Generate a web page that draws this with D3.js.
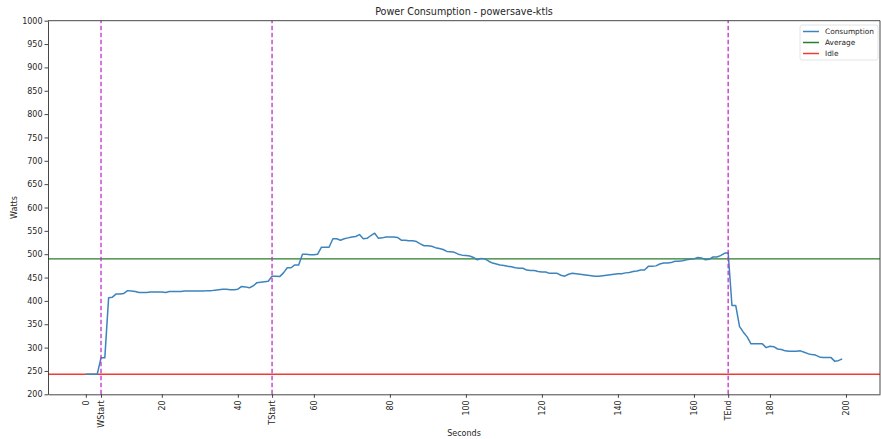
<!DOCTYPE html>
<html>
<head>
<meta charset="utf-8">
<script src="https://cdn.jsdelivr.net/npm/d3@7"></script>
<style>
  body { margin: 0; background: #fff; }
  text { font-family: "DejaVu Sans", sans-serif; fill: #262626; }
</style>
</head>
<body>
<div id="chart"></div>
<script>
// Power readings, one per second starting at 0
const watts = [
    243, 243, 243, 243, 278, 278, 407, 408, 415, 415,
    416, 422, 421, 420, 418, 418, 418, 419, 419, 419,
    419, 418, 420, 420, 420, 420, 421, 421, 421, 421,
    421, 421, 422, 422, 423, 424, 425, 425, 424, 424,
    425, 431, 430, 428, 432, 439, 440, 441, 442, 453,
    453, 452, 460, 471, 471, 477, 477, 500, 500, 499,
    499, 500, 515, 515, 515, 533, 533, 530, 533, 535,
    537, 538, 542, 533, 534, 540, 545, 534, 535, 537,
    537, 537, 536, 530, 530, 529, 529, 527, 522, 518,
    518, 517, 514, 512, 510, 506, 505, 504, 500, 498,
    497, 496, 493, 488, 491, 490, 485, 481, 479, 477,
    476, 474, 473, 471, 470, 470, 466, 465, 465, 463,
    462, 462, 459, 459, 459, 455, 453, 457, 459, 458,
    457, 456, 455, 454, 453, 453, 454, 455, 456, 457,
    458, 458, 460, 461, 463, 464, 466, 466, 474, 474,
    475, 479, 481, 481, 482, 485, 485, 486, 488, 489,
    490, 493, 492, 488, 489, 494, 494, 497, 502, 503,
    390, 390, 345, 333, 323, 308, 308, 308, 308, 300,
    303, 302, 297, 296, 293, 292, 292, 292, 293, 290,
    287, 285, 284, 280, 279, 279, 279, 271, 272, 276
];
const average = 490;
const idle = 243;

// phase markers
const markers = [
    { name: 'WStart', t: 4 },
    { name: 'TStart', t: 49 },
    { name: 'TEnd', t: 169 }
];
const xTicks = [0, 20, 40, 60, 80, 100, 120, 140, 160, 180, 200];
const yTicks = d3.range(200, 1001, 50);

const legendItems = [
    { label: 'Consumption', color: '#3d84bd' },
    { label: 'Average', color: '#2a7d2a' },
    { label: 'Idle', color: '#f03c32' }
];

const width = 881, height = 439;
const margin = { top: 20.7, right: 1, bottom: 44.7, left: 48 };

const svg = d3.select('#chart').append('svg')
    .attr('width', width)
    .attr('height', height);

const x = d3.scaleLinear()
    .domain([-9.95, 208.95])
    .range([margin.left, width - margin.right]);
const y = d3.scaleLinear()
    .domain([200, 1000])
    .range([height - margin.bottom, margin.top]);

const plot = svg.append('g');

// idle and average lines
plot.append('line')
    .attr('x1', x.range()[0]).attr('x2', x.range()[1])
    .attr('y1', y(idle)).attr('y2', y(idle))
    .attr('stroke', '#f03c32').attr('stroke-width', 1.5);
plot.append('line')
    .attr('x1', x.range()[0]).attr('x2', x.range()[1])
    .attr('y1', y(average)).attr('y2', y(average))
    .attr('stroke', '#2a7d2a').attr('stroke-width', 1.3);

// consumption
const line = d3.line()
    .x((d, i) => x(i))
    .y(d => y(d));
plot.append('path')
    .datum(watts)
    .attr('d', line)
    .attr('fill', 'none')
    .attr('stroke', '#3d84bd')
    .attr('stroke-width', 1.5)
    .attr('stroke-linejoin', 'round');

// marker lines
plot.selectAll('.marker')
    .data(markers)
    .enter()
    .append('line')
    .attr('x1', d => x(d.t)).attr('x2', d => x(d.t))
    .attr('y1', y.range()[0]).attr('y2', y.range()[1])
    .attr('stroke', '#c030c8')
    .attr('stroke-width', 1.3)
    .attr('stroke-dasharray', '4.5,2.5');

// axes
const allTicks = xTicks.map(t => ({ t, label: String(t) }))
    .concat(markers.map(m => ({ t: m.t, label: m.name })));

const xAxis = d3.axisBottom(x)
    .tickValues(allTicks.map(d => d.t))
    .tickFormat(v => allTicks.find(d => d.t === v).label)
    .tickSize(3.5)
    .tickSizeOuter(0);
const gx = svg.append('g')
    .attr('transform', `translate(0,${y.range()[0]})`)
    .call(xAxis);
gx.selectAll('text')
    .attr('font-size', 8)
    .attr('transform', 'rotate(-90)')
    .attr('text-anchor', 'end')
    .attr('x', -6)
    .attr('y', 0)
    .attr('dy', '0.32em');

const yAxis = d3.axisLeft(y)
    .tickValues(yTicks)
    .tickFormat(d3.format('d'))
    .tickSize(3.5)
    .tickSizeOuter(0);
const gy = svg.append('g')
    .attr('transform', `translate(${margin.left},0)`)
    .call(yAxis);
gy.selectAll('text').attr('font-size', 8).attr('x', -5.5);

svg.selectAll('.domain').attr('stroke', '#333').attr('stroke-width', 0.9);
svg.selectAll('.tick line').attr('stroke', '#333').attr('stroke-width', 0.9);

// top and right spines
svg.append('line')
    .attr('x1', margin.left).attr('x2', width - margin.right)
    .attr('y1', margin.top).attr('y2', margin.top)
    .attr('stroke', '#333').attr('stroke-width', 0.9);
svg.append('line')
    .attr('x1', width - margin.right).attr('x2', width - margin.right)
    .attr('y1', margin.top).attr('y2', y.range()[0])
    .attr('stroke', '#333').attr('stroke-width', 0.9);

// titles
svg.append('text')
    .attr('x', (x.range()[0] + x.range()[1]) / 2)
    .attr('y', 15)
    .attr('text-anchor', 'middle')
    .attr('font-size', 9.6)
    .text('Power Consumption - powersave-ktls');
svg.append('text')
    .attr('x', (x.range()[0] + x.range()[1]) / 2)
    .attr('y', 436)
    .attr('text-anchor', 'middle')
    .attr('font-size', 8)
    .text('Seconds');
svg.append('text')
    .attr('transform', `translate(17,${(y.range()[0] + y.range()[1]) / 2}) rotate(-90)`)
    .attr('text-anchor', 'middle')
    .attr('font-size', 8)
    .text('Watts');

// legend
const lg = svg.append('g').attr('transform', 'translate(800,25)');
lg.append('rect')
    .attr('width', 78).attr('height', 35)
    .attr('rx', 2)
    .attr('fill', '#fff')
    .attr('stroke', '#ddd')
    .attr('stroke-width', 0.8);
legendItems.forEach((d, i) => {
    const yy = 6.5 + i * 11;
    lg.append('line')
        .attr('x1', 3).attr('x2', 19)
        .attr('y1', yy).attr('y2', yy)
        .attr('stroke', d.color).attr('stroke-width', 1.5);
    lg.append('text')
        .attr('x', 25).attr('y', yy)
        .attr('dy', '0.35em')
        .attr('font-size', 7.4)
        .text(d.label);
});
</script>
</body>
</html>
